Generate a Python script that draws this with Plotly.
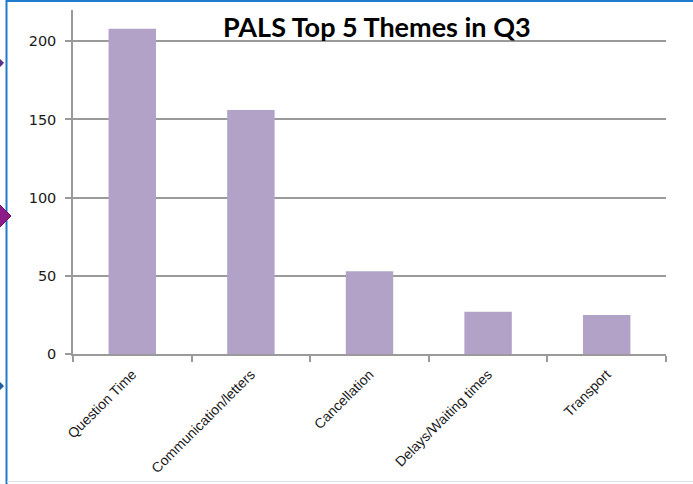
import plotly.graph_objects as go

categories = ["Question Time", "Communication/letters", "Cancellation", "Delays/Waiting times", "Transport"]
values = [208, 156, 53, 27, 25]
y_ticks = [0, 50, 100, 150, 200]
title_text = "PALS Top 5 Themes in Q3"

W, H = 693, 484
L, R, T, B = 73, 27, 10, 130
PW, PH = W - L - R, H - T - B


def px(x):
    return (x - L) / PW


def py(y):
    return (H - B - y) / PH


def diamond(cx, cy, h, color, line):
    pts = [(cx, cy - h), (cx + h, cy), (cx, cy + h), (cx - h, cy)]
    path = "M " + " L ".join(f"{px(a):.5f},{py(b):.5f}" for a, b in pts) + " Z"
    return dict(type="path", xref="paper", yref="paper", path=path,
                fillcolor=color, line=dict(color=line, width=1), layer="above")


fig = go.Figure()
fig.add_trace(go.Bar(x=categories, y=values, marker=dict(color="#B3A2C7", line=dict(width=0)),
                     width=0.4, hoverinfo="x+y"))

shapes = [
    dict(type="line", xref="paper", yref="paper", x0=px(6.5), x1=px(6.5), y0=py(0), y1=py(H),
         line=dict(color="#1F7BCB", width=2)),
    dict(type="line", xref="paper", yref="paper", x0=px(6), x1=px(W), y0=py(1), y1=py(1),
         line=dict(color="#1F7BCB", width=2)),
    dict(type="line", xref="paper", yref="paper", x0=px(7), x1=px(W), y0=py(481.5), y1=py(481.5),
         line=dict(color="#DCE6F0", width=1)),
    diamond(-2, 63, 5.5, "#5E2E8E", "#4B2277"),
    diamond(-3, 216, 14, "#8E1A86", "#6E1268"),
    diamond(-2, 386, 5.5, "#1F5FA8", "#184C88"),
]

fig.update_layout(
    width=W, height=H,
    margin=dict(l=L, r=R, t=T, b=B, pad=0, autoexpand=False),
    paper_bgcolor="white", plot_bgcolor="white",
    showlegend=False,
    shapes=shapes,
    annotations=[dict(text=f"<b>{title_text}</b>", xref="paper", yref="paper",
                      x=px(377), y=py(27), xanchor="center", yanchor="middle",
                      showarrow=False, font=dict(family="Lato", size=27, color="#000000"))],
)

fig.update_yaxes(
    range=[0, 220], tickvals=y_ticks, ticktext=[str(v) for v in y_ticks],
    showgrid=True, gridcolor="#9A9A9A", gridwidth=1.5,
    showline=True, linecolor="#9A9A9A", linewidth=1.5,
    ticks="outside", ticklen=6, tickcolor="#9A9A9A", tickwidth=1.5,
    zeroline=False, automargin=False,
    tickfont=dict(family="DejaVu Sans", size=14.5, color="#1A1A1A"),
    ticklabelstandoff=6,
)
fig.update_xaxes(
    type="category", range=[-0.5, 4.5],
    showline=True, linecolor="#9A9A9A", linewidth=1.5,
    ticks="outside", ticklen=6, tickcolor="#9A9A9A", tickwidth=1.5,
    tickson="boundaries", showgrid=False, automargin=False,
    tickangle=-45,
    tickfont=dict(family="Liberation Sans", size=14, color="#1A1A1A"),
    ticklabelshift=0, ticklabelstandoff=5,
)

fig.write_html("out.html", config={"displayModeBar": False},
               post_script="document.body.style.margin='0';document.body.style.overflow='hidden';")
